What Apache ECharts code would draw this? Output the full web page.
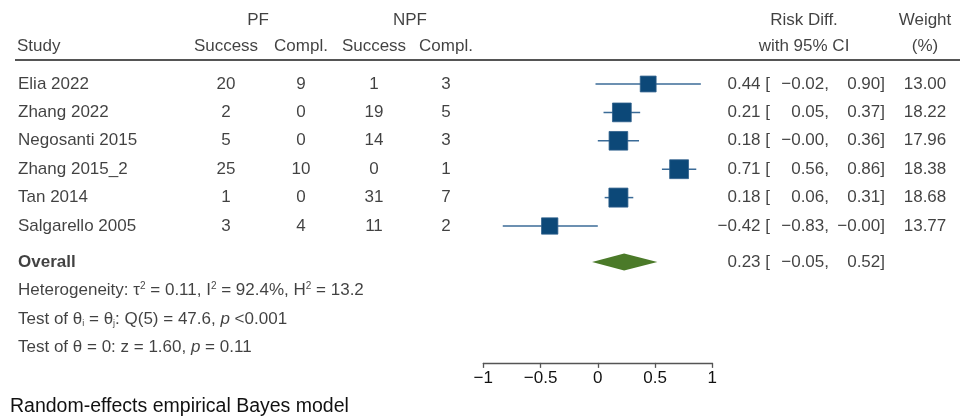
<!DOCTYPE html>
<html>
<head>
<meta charset="utf-8">
<script src="https://cdn.jsdelivr.net/npm/echarts@6/dist/echarts.min.js"></script>
<style>
html,body{margin:0;padding:0;background:#fff;}
#chart{width:960px;height:417px;}
</style>
</head>
<body>
<div id="chart"></div>
<script>
// ---- data ----
var studies = ['Elia 2022','Zhang 2022','Negosanti 2015','Zhang 2015_2','Tan 2014','Salgarello 2005'];
var pfSuccess = [20, 2, 5, 25, 1, 3];
var pfCompl = [9, 0, 0, 10, 0, 4];
var npfSuccess = [1, 19, 14, 0, 31, 11];
var npfCompl = [3, 5, 3, 1, 7, 2];
var riskDiff = [0.44, 0.21, 0.18, 0.71, 0.18, -0.42];
var ciLow = [-0.02, 0.05, -0.00, 0.56, 0.06, -0.83];
var ciHigh = [0.90, 0.37, 0.36, 0.86, 0.31, -0.00];
var weights = [13.00, 18.22, 17.96, 18.38, 18.68, 13.77];
var overall = [0.23, -0.05, 0.52];
var xTicks = [-1, -0.5, 0, 0.5, 1];

// ---- layout (styles only) ----
var FONT = 'Liberation Sans, Arial, sans-serif';
var FS = 17;
var ROW_OVERALL = 7.27;
var ROW0_Y = 55.6, ROW_H = 28.4, YMIN = -1.9, YMAX = 10.82;
var GRID_TOP = ROW0_Y + YMIN * ROW_H;
var GRID_BOTTOM = 417 - (ROW0_Y + YMAX * ROW_H);
var col = {study: 18, pfS: 226, pfC: 301, npfS: 374, npfC: 446, pfHead: 258, npfHead: 410,
  est: 770, lo: 829, hi: 885, rdHead: 804, wt: 925};

function fmt(v){
  var neg = v < 0 || Object.is(v, -0);
  return (neg ? '\u2212' : '') + Math.abs(v).toFixed(2);
}

var chart = echarts.init(document.getElementById('chart'));

var textData = [];
function addText(x, row, text, align, extra){
  textData.push({value:[x,row], label:Object.assign({formatter:text, align:align}, extra||{})});
}
studies.forEach(function(s,i){
  var r = i+1;
  addText(col.study, r, s, 'left');
  addText(col.pfS, r, String(pfSuccess[i]), 'center');
  addText(col.pfC, r, String(pfCompl[i]), 'center');
  addText(col.npfS, r, String(npfSuccess[i]), 'center');
  addText(col.npfC, r, String(npfCompl[i]), 'center');
  addText(col.est, r, fmt(riskDiff[i]) + ' [', 'right');
  addText(col.lo, r, fmt(ciLow[i]) + ',', 'right');
  addText(col.hi, r, fmt(ciHigh[i]) + ']', 'right');
  addText(col.wt, r, weights[i].toFixed(2), 'center');
});
addText(col.study, ROW_OVERALL, 'Overall', 'left', {fontWeight:'bold'});
addText(col.est, ROW_OVERALL, fmt(overall[0]) + ' [', 'right');
addText(col.lo, ROW_OVERALL, fmt(overall[1]) + ',', 'right');
addText(col.hi, ROW_OVERALL, fmt(overall[2]) + ']', 'right');
addText(col.study, 8.27, 'Heterogeneity: \u03c4{sup|2} = 0.11, I{sup|2} = 92.4%, H{sup|2} = 13.2', 'left');
addText(col.study, 9.3, 'Test of \u03b8{sub|i} = \u03b8{sub|j}: Q(5) = 47.6, {it|p} <0.001', 'left');
addText(col.study, 10.26, 'Test of \u03b8 = 0: z = 1.60, {it|p} = 0.11', 'left');
// headers
addText(col.pfHead, -1.24, 'PF', 'center');
addText(col.npfHead, -1.24, 'NPF', 'center');
addText(col.study - 1, -0.33, 'Study', 'left');
addText(col.pfS, -0.33, 'Success', 'center');
addText(col.pfC, -0.33, 'Compl.', 'center');
addText(col.npfS, -0.33, 'Success', 'center');
addText(col.npfC, -0.33, 'Compl.', 'center');
addText(col.rdHead, -1.24, 'Risk Diff.', 'center');
addText(col.rdHead, -0.33, 'with 95% CI', 'center');
addText(col.wt, -1.24, 'Weight', 'center');
addText(col.wt, -0.33, '(%)', 'center');

var forestData = studies.map(function(s,i){
  return [riskDiff[i], i+1, ciLow[i], ciHigh[i], weights[i]];
});

var option = {
  animation:false,
  backgroundColor:'#fff',
  textStyle:{fontFamily:FONT},
  grid:[
    {left:483.3, right:960-712.3, top:GRID_TOP, bottom:GRID_BOTTOM, containLabel:false},
    {left:0, right:0, top:GRID_TOP, bottom:GRID_BOTTOM, containLabel:false}
  ],
  xAxis:[
    {gridIndex:0, type:'value', min:-1, max:1, interval:0.5,
     axisLine:{show:true, onZero:false, lineStyle:{color:'#555', width:1.3}},
     axisTick:{show:true, inside:false, length:5, lineStyle:{color:'#555', width:1.3}},
     splitLine:{show:false},
     axisLabel:{color:'#111', fontSize:FS, fontFamily:FONT, margin:7,
       formatter:function(v){ return String(v).replace('-', '\u2212'); }}},
    {gridIndex:1, type:'value', min:0, max:960, show:false}
  ],
  yAxis:[
    {gridIndex:0, type:'value', min:YMIN, max:YMAX, inverse:true, show:false},
    {gridIndex:1, type:'value', min:YMIN, max:YMAX, inverse:true, show:false}
  ],
  series:[
    {
      type:'custom', xAxisIndex:0, yAxisIndex:0, data:forestData, clip:false,
      renderItem:function(params, api){
        var c = api.coord([api.value(0), api.value(1)]);
        var l = api.coord([api.value(2), api.value(1)]);
        var h = api.coord([api.value(3), api.value(1)]);
        var side = 4.4 * Math.sqrt(api.value(4));
        return {type:'group', children:[
          {type:'line', shape:{x1:l[0], y1:l[1], x2:h[0], y2:h[1]},
           style:{stroke:'#3b6b97', lineWidth:1.5}},
          {type:'rect', shape:{x:c[0]-side/2, y:c[1]-side/2, width:side, height:side},
           style:{fill:'#0c4878', stroke:'#2f5f8c', lineWidth:0.8}}
        ]};
      }
    },
    {
      type:'custom', xAxisIndex:0, yAxisIndex:0, data:[[overall[0], ROW_OVERALL, overall[1], overall[2]]], clip:false,
      renderItem:function(params, api){
        var c = api.coord([api.value(0), api.value(1)]);
        var l = api.coord([api.value(2), api.value(1)]);
        var h = api.coord([api.value(3), api.value(1)]);
        var hh = 8.5;
        return {type:'polygon', shape:{points:[[l[0],c[1]],[c[0],c[1]-hh],[h[0],c[1]],[c[0],c[1]+hh]]},
          style:{fill:'#4b7a29'}};
      }
    },
    {
      type:'scatter', xAxisIndex:1, yAxisIndex:1, symbolSize:0, silent:true,
      data:textData,
      label:{show:true, position:'inside', color:'#111', fontSize:FS, fontFamily:FONT,
        verticalAlign:'middle',
        rich:{
          sub:{fontSize:9, color:'#111', fontFamily:FONT, padding:[8,0,0,0]},
          sup:{fontSize:10, color:'#111', fontFamily:FONT, padding:[0,0,9,0]},
          it:{fontStyle:'italic', fontSize:FS, color:'#111', fontFamily:FONT}
        }}
    },
    {
      type:'line', xAxisIndex:1, yAxisIndex:1, symbol:'none', silent:true,
      data:[[15,0.155],[960,0.155]],
      lineStyle:{color:'#555', width:2}
    }
  ],
  graphic:[
    {type:'text', left:10, top:397, style:{text:'Random-effects empirical Bayes model', fill:'#111', fontSize:19.5, fontFamily:FONT}}
  ]
};
chart.setOption(option);
</script>
</body>
</html>
